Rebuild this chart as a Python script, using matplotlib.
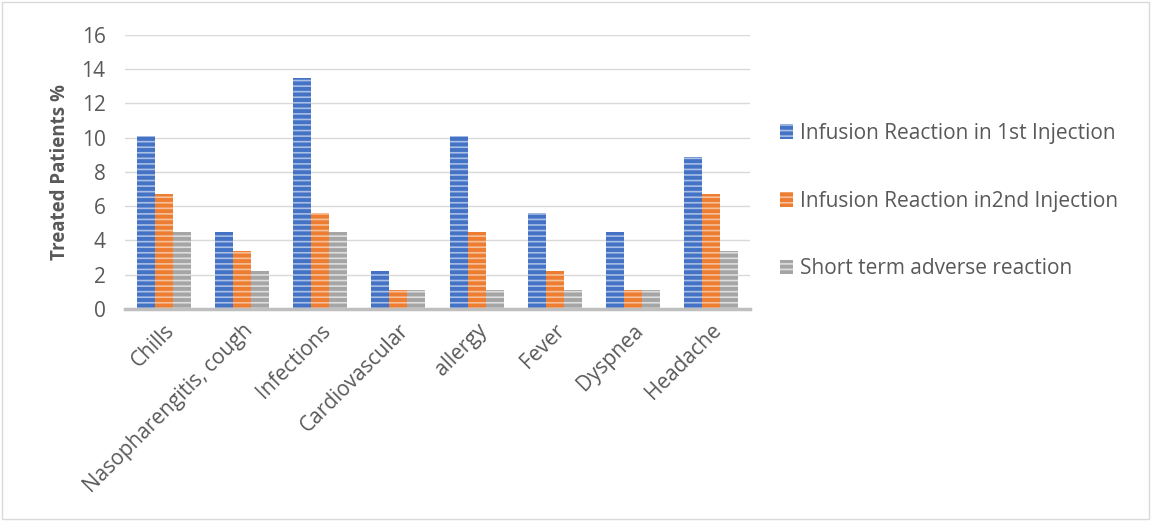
import matplotlib
matplotlib.use("Agg")
import matplotlib.pyplot as plt
import numpy as np

plt.rcParams["font.family"] = ["Open Sans", "DejaVu Sans"]
plt.rcParams["hatch.linewidth"] = 1.2

categories = ["Chills", "Nasopharengitis, cough", "Infections", "Cardiovascular",
              "allergy", "Fever", "Dyspnea", "Headache"]
first_injection = [10.1, 4.5, 13.5, 2.2, 10.1, 5.6, 4.5, 8.9]
second_injection = [6.7, 3.4, 5.6, 1.1, 4.5, 2.2, 1.1, 6.7]
short_term = [4.5, 2.2, 4.5, 1.1, 1.1, 1.1, 1.1, 3.4]

series = [
    ("Infusion Reaction in 1st Injection", first_injection, "#4472c4", "#a9bfe6"),
    ("Infusion Reaction in2nd Injection", second_injection, "#ed7d31", "#f7c09a"),
    ("Short term adverse reaction", short_term, "#a5a5a5", "#dedede"),
]

text_color = "#595959"

fig = plt.figure(figsize=(11.51, 5.21), dpi=100)
fig.patches.append(plt.Rectangle((0.002, 0.004), 0.996, 0.992, transform=fig.transFigure,
                                 fill=False, edgecolor="#d9d9d9", linewidth=1))
ax = fig.add_axes([0.1086, 0.407, 0.543, 0.526])

x = np.arange(len(categories))
width = 0.23
for i, (label, values, color, stripe) in enumerate(series):
    ax.bar(x + (i - 1) * width, values, width, color=color, edgecolor=stripe,
           linewidth=0, hatch="---", label=label)

ax.set_ylim(0, 16)
ax.set_yticks(range(0, 17, 2))
ax.set_xlim(-0.5, len(categories) - 0.5)
ax.set_xticks(x)
ax.set_xticklabels(categories, rotation=45, ha="right", rotation_mode="anchor")
ax.yaxis.grid(True, color="#d9d9d9", linewidth=1)
ax.set_axisbelow(True)
for side in ["top", "right", "left"]:
    ax.spines[side].set_visible(False)
ax.spines["bottom"].set_color("#bfbfbf")
ax.spines["bottom"].set_linewidth(2.5)
ax.tick_params(axis="both", length=0, labelsize=15, colors=text_color, pad=8)
ax.tick_params(axis="y", pad=14)
ax.set_ylabel("Treated Patients %", fontsize=13.5, fontweight="bold", color=text_color,
              labelpad=8)

fig.legend(loc="center left", bbox_to_anchor=(0.678, 0.614), frameon=False,
           fontsize=15, labelcolor=text_color, labelspacing=2.25,
           handlelength=0.6, handleheight=0.7, handletextpad=0.35,
           borderpad=0, borderaxespad=0)

fig.savefig("out.png", dpi=100)
